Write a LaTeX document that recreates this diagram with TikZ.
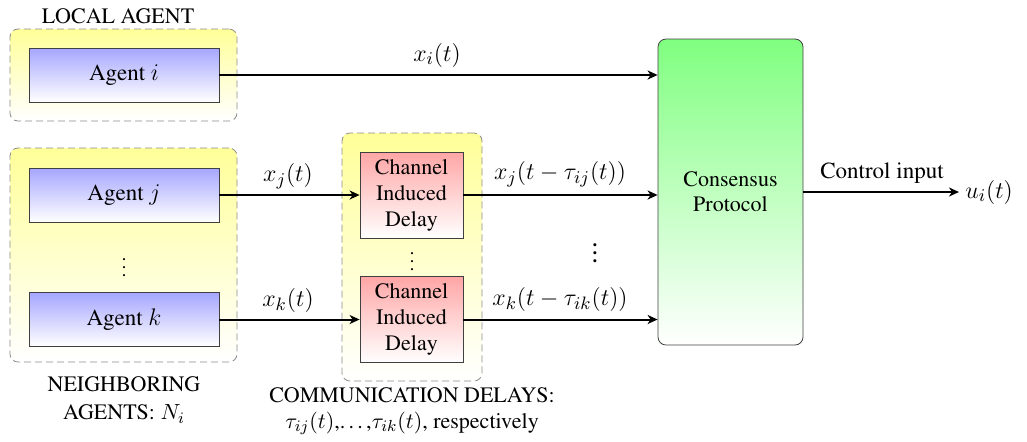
\documentclass[tikz,border=0pt]{standalone}
\usepackage[T1]{fontenc}
\usepackage{times}
\usetikzlibrary{arrows.meta,calc}
\begin{document}
\begin{tikzpicture}[x=0.5pt,y=-0.5pt,
  groupbox/.style={draw=black!45, dash pattern=on 3.5pt off 2pt, rounded corners=4pt, top color=yellow!40, bottom color=white, inner sep=0pt},
  agentbox/.style={draw=black!75, top color=blue!35, bottom color=white, minimum width=95pt, minimum height=27pt, inner sep=0pt, font=\fontsize{11.5}{13}\selectfont},
  delaybox/.style={draw=black!75, top color=red!35, bottom color=white, minimum width=51.5pt, minimum height=43pt, inner sep=0pt, align=center, font=\fontsize{11}{13}\selectfont},
  protobox/.style={draw=black!75, rounded corners=4pt, top color=green!50, bottom color=white, minimum width=72.5pt, minimum height=153pt, inner sep=0pt, align=center, font=\fontsize{11}{12.5}\selectfont},
  sig/.style={line width=1pt, -{Stealth[length=5pt,width=4.5pt,inset=1.5pt]}},
  lbl/.style={inner sep=1pt, font=\fontsize{13}{15}\selectfont},
  captext/.style={align=center, inner sep=0pt, font=\fontsize{11}{13}\selectfont}
]
\useasboundingbox (0,0) rectangle (1027,441);

% group boxes
\node[groupbox, minimum width=113.5pt, minimum height=46pt] (glocal) at (123.5,75) {};
\node[groupbox, minimum width=113.5pt, minimum height=107pt] (gneigh) at (123.5,255) {};
\node[groupbox, minimum width=70pt, minimum height=124pt] (gdelay) at (412,257) {};

% captions
\node[captext] (clocal) at (118,16) {LOCAL AGENT};
\node[captext] (cneigh) at (124,400) {NEIGHBORING\\[1pt]AGENTS: $N_i$};
\node[captext] (cdelay) at (412,411) {COMMUNICATION DELAYS:\\$\tau_{ij}(t)$,\ldots,$\tau_{ik}(t)$, respectively};

% agents
\node[agentbox] (ai) at (124,75) {Agent $i$};
\node[agentbox] (aj) at (124,195) {Agent $j$};
\node[agentbox] (ak) at (124,319.5) {Agent $k$};
\node[inner sep=0pt] (dots1) at (124,262) {$\vdots$};

% delays
\node[delaybox] (dj) at (411.5,195) {Channel\\Induced\\Delay};
\node[delaybox] (dk) at (411.5,319.5) {Channel\\Induced\\Delay};
\node[inner sep=0pt] (dots2) at (412,256) {$\vdots$};

% protocol
\node[protobox] (cp) at (730.5,192) {Consensus\\Protocol};
\node[inner sep=0pt, font=\Large] (dots3) at (595,247) {$\vdots$};

% output
\coordinate (uend) at (959,192);
\node[lbl, anchor=west, inner sep=3pt] (u) at (uend) {$u_i(t)$};

% connectors
\draw[sig] (ai.east) -- (ai.east -| cp.west);
\draw[sig] (aj.east) -- (dj.west);
\draw[sig] (ak.east) -- (dk.west);
\draw[sig] (dj.east) -- (dj.east -| cp.west);
\draw[sig] (dk.east) -- (dk.east -| cp.west);
\draw[sig] (cp.east) -- (uend);

% labels
\node[lbl] (lxi) at (437,55) {$x_i(t)$};
\node[lbl] (lxj) at (288,176) {$x_j(t)$};
\node[lbl] (lxk) at (288,300) {$x_k(t)$};
\node[lbl] (lxjd) at (560,174) {$x_j(t-\tau_{ij}(t))$};
\node[lbl] (lxkd) at (560,299) {$x_k(t-\tau_{ik}(t))$};
\node[inner sep=1pt, font=\fontsize{11.5}{13}\selectfont] (lci) at (882,173) {Control input};
\end{tikzpicture}
\end{document}
